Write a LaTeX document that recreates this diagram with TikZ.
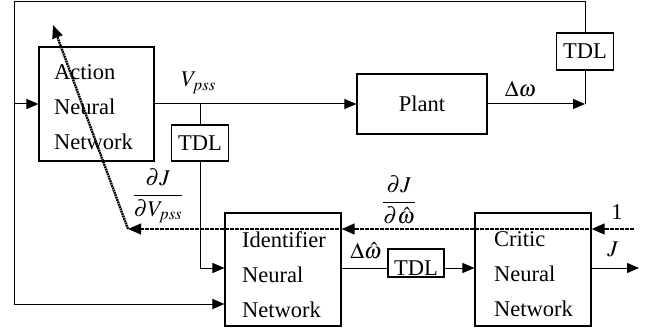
\documentclass[tikz,border=0pt]{standalone}
\usepackage{mathptmx}
\usepackage{amsmath}
\usepackage{fontspec}
\setmainfont{Liberation Serif}
\usetikzlibrary{arrows.meta}
\begin{document}
\begin{tikzpicture}[x=1pt,y=-1pt,
  every node/.style={font=\fontsize{22.5}{35}\selectfont},
  box/.style={draw, line width=1.1pt, inner sep=0pt},
  txt/.style={align=left, inner sep=0pt, anchor=north west},
  wire/.style={line width=1pt},
  arr/.style={wire, -{Triangle[length=12pt,width=10pt]}},
  grad/.style={line width=2.4pt, dash pattern=on 1.8pt off 0.7pt, -{Triangle[length=13pt,width=10.5pt]}},
]
\useasboundingbox (0,0) rectangle (657,329);

% blocks
\node[box, minimum width=115pt, minimum height=114pt] (ann) at (96.5,104) {};
\node[txt] (annT) at (54,64) {Action\\Neural\\Network};
\node[box, minimum width=130pt, minimum height=60pt] (plant) at (422,104) {Plant};
\node[box, minimum width=57pt, minimum height=36pt] (tdl1) at (200,143) {TDL};
\node[box, minimum width=57pt, minimum height=37pt] (tdl2) at (585,51.5) {TDL};
\node[box, minimum width=116pt, minimum height=113pt] (iden) at (283,269.5) {};
\node[txt] (idenT) at (242,231) {Identifier\\Neural\\Network};
\node[box, minimum width=56pt, minimum height=28pt] (tdl3) at (416,263) {};
\node (tdl3T) at (416,268) {TDL};
\node[box, minimum width=116pt, minimum height=113pt] (critic) at (533,269.5) {};
\node[txt] (criticT) at (494,231) {Critic\\Neural\\Network};

% labels
\node (vpss) at (198.5,83) {$V_{pss}$};
\node (dw) at (520.5,89.5) {$\Delta\omega$};
\node (dJdV) at (158,196) {$\dfrac{\partial J}{\partial V_{pss}}$};
\node (dJdw) at (399,200) {$\dfrac{\partial J}{\partial\hat{\omega}}$};
\node (dwh) at (366,251) {$\Delta\hat{\omega}$};
\node (one) at (617,212.5) {1};
\node (Jl) at (613,249.5) {$J$};

% coordinates
\coordinate (tr) at (585,2);
\coordinate (tl) at (14,2);
\coordinate (bl) at (14,304);
\coordinate (inA) at (14,104);
\coordinate (pout) at (585,104);
\coordinate (br1) at (200,104);
\coordinate (br2) at (200,268);
\coordinate (Jout) at (639,268);
\coordinate (g0) at (634,229);
\coordinate (g3) at (128,229);
\coordinate (g4) at (53,25);

% wires
\draw[arr] (tdl2.north) -- (tr) -- (tl) -- (bl) -- (bl -| iden.west);
\draw[arr] (inA) -- (ann.west);
\draw[arr] (ann.east) -- (plant.west);
\draw[arr] (plant.east) -- (pout);
\draw[wire] (pout) -- (tdl2.south);
\draw[wire] (br1) -- (tdl1.north);
\draw[arr] (tdl1.south) -- (br2) -- (br2 -| iden.west);
\draw[wire] (br2 -| iden.east) -- (br2 -| tdl3.west);
\draw[arr] (br2 -| tdl3.east) -- (br2 -| critic.west);
\draw[arr] (br2 -| critic.east) -- (Jout);

% gradient (dotted) paths
\draw[grad] (g0) -- (g0 -| critic.east);
\draw[grad] (g0 -| critic.east) -- (g0 -| iden.east);
\draw[grad] (g0 -| iden.east) -- (g3);
\draw[grad] (g3) -- (g4);
\end{tikzpicture}
\end{document}
